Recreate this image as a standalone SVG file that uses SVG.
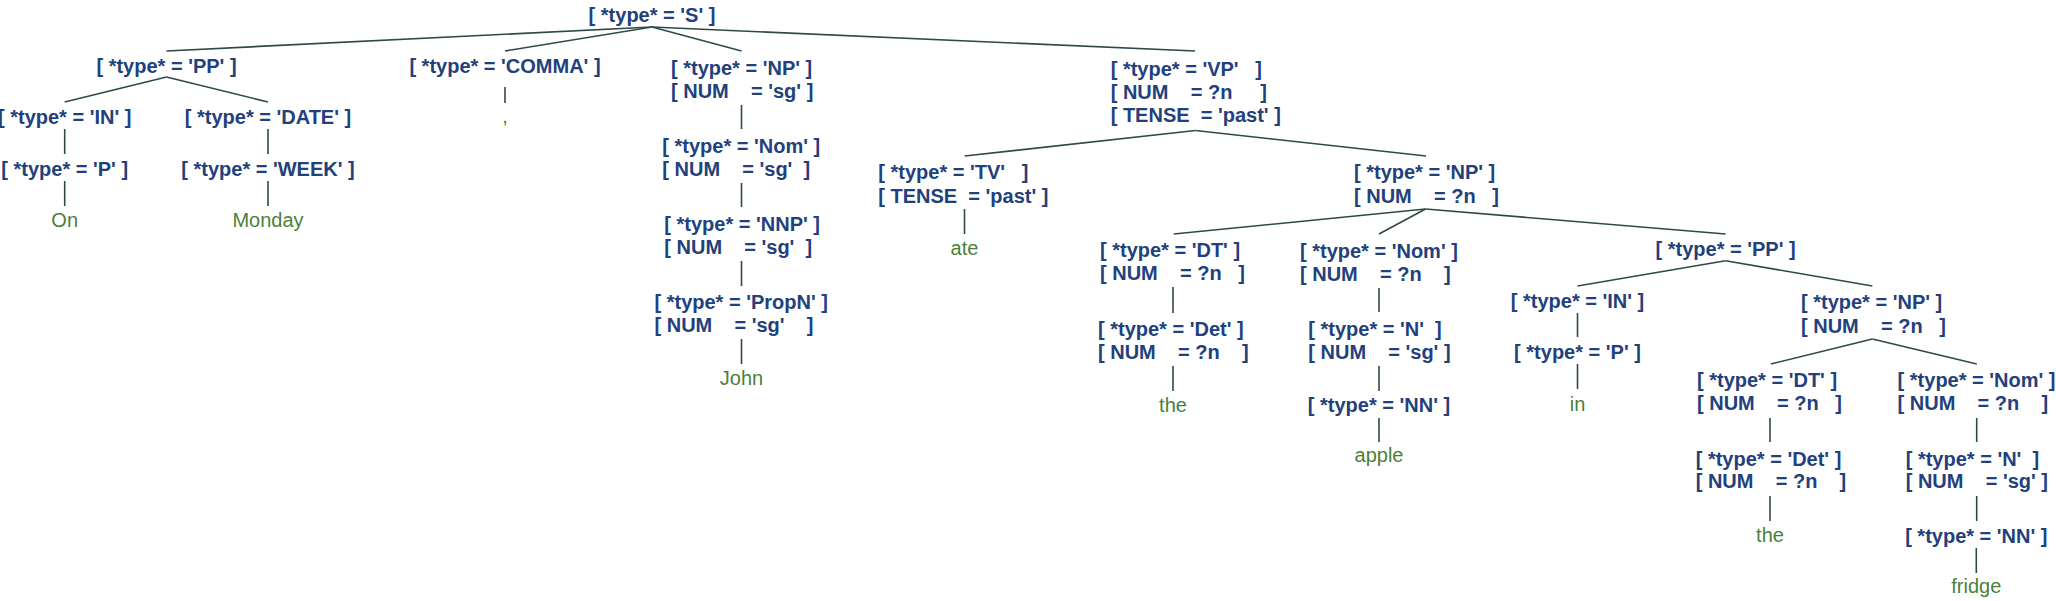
<svg xmlns="http://www.w3.org/2000/svg" width="2056" height="601" viewBox="0 0 2056 601">
<style>
.n{font-family:"Liberation Sans",Arial,Helvetica,sans-serif;font-size:20px;font-weight:bold;fill:#22417c;white-space:pre}
.c{text-anchor:middle}
.l{font-family:"Liberation Sans",Arial,Helvetica,sans-serif;font-size:20px;fill:#4a7f3a;text-anchor:middle}
.e line{stroke:#2e4a48;stroke-width:1.6;fill:none}
</style>
<rect width="2056" height="601" fill="#ffffff"/>
<g class="e" id="connectors">
<line x1="652" y1="27" x2="166.5" y2="51"/>
<line x1="652" y1="27" x2="505" y2="51"/>
<line x1="652" y1="27" x2="741.5" y2="51"/>
<line x1="652" y1="27" x2="1195" y2="51"/>
<line x1="166.5" y1="77" x2="64.7" y2="102"/>
<line x1="166.5" y1="77" x2="268" y2="102"/>
<line x1="64.7" y1="129" x2="64.7" y2="154"/>
<line x1="64.7" y1="181" x2="64.7" y2="206"/>
<line x1="268" y1="129" x2="268" y2="154"/>
<line x1="268" y1="181" x2="268" y2="206"/>
<line x1="505" y1="87" x2="505" y2="103"/>
<line x1="741.5" y1="105" x2="741.5" y2="129"/>
<line x1="741.5" y1="183" x2="741.5" y2="207"/>
<line x1="741.5" y1="261" x2="741.5" y2="286"/>
<line x1="741.5" y1="339" x2="741.5" y2="364"/>
<line x1="1195.5" y1="130.5" x2="964.7" y2="156"/>
<line x1="1195.5" y1="130.5" x2="1426" y2="156"/>
<line x1="964.5" y1="209" x2="964.5" y2="234"/>
<line x1="1425.5" y1="209" x2="1173.7" y2="234"/>
<line x1="1425.5" y1="209" x2="1379" y2="234"/>
<line x1="1425.5" y1="209" x2="1725.6" y2="234"/>
<line x1="1173" y1="287" x2="1173" y2="313"/>
<line x1="1173" y1="366" x2="1173" y2="391"/>
<line x1="1379" y1="288" x2="1379" y2="312"/>
<line x1="1379" y1="366" x2="1379" y2="391"/>
<line x1="1379" y1="418" x2="1379" y2="442"/>
<line x1="1725.6" y1="260.7" x2="1577.5" y2="286"/>
<line x1="1725.6" y1="260.7" x2="1872.4" y2="286"/>
<line x1="1577.5" y1="313" x2="1577.5" y2="337"/>
<line x1="1577.5" y1="364" x2="1577.5" y2="389"/>
<line x1="1872.4" y1="339" x2="1770.8" y2="364"/>
<line x1="1872.4" y1="339" x2="1976.8" y2="364"/>
<line x1="1770" y1="418" x2="1770" y2="442"/>
<line x1="1770" y1="496" x2="1770" y2="521"/>
<line x1="1976.7" y1="418" x2="1976.7" y2="442"/>
<line x1="1976.7" y1="496" x2="1976.7" y2="521"/>
<line x1="1976.3" y1="548" x2="1976.3" y2="573"/>
</g>
<g id="n-S" xml:space="preserve"><text class="n c" x="652" y="22">[ *type* = 'S' ]</text></g>
<g id="n-PP1" xml:space="preserve"><text class="n c" x="166.5" y="73">[ *type* = 'PP' ]</text></g>
<g id="n-IN1" xml:space="preserve"><text class="n c" x="64.7" y="124">[ *type* = 'IN' ]</text></g>
<g id="n-P1" xml:space="preserve"><text class="n c" x="64.7" y="176">[ *type* = 'P' ]</text></g>
<g id="l-On"><text class="l" x="64.7" y="226.5">On</text></g>
<g id="n-DATE" xml:space="preserve"><text class="n c" x="268" y="124">[ *type* = 'DATE' ]</text></g>
<g id="n-WEEK" xml:space="preserve"><text class="n c" x="268" y="176">[ *type* = 'WEEK' ]</text></g>
<g id="l-Monday"><text class="l" x="268" y="226.5">Monday</text></g>
<g id="n-COMMA" xml:space="preserve"><text class="n c" x="505" y="73">[ *type* = 'COMMA' ]</text></g>
<g id="l-comma"><text class="l" x="505" y="123">,</text></g>
<g id="n-NP1" xml:space="preserve"><text class="n" x="671" y="74.5">[ *type* = 'NP' ]</text><text class="n" x="671" y="97.5">[ NUM    = 'sg' ]</text></g>
<g id="n-Nom1" xml:space="preserve"><text class="n" x="662.3" y="152.8">[ *type* = 'Nom' ]</text><text class="n" x="662.3" y="175.7">[ NUM    = 'sg'  ]</text></g>
<g id="n-NNP" xml:space="preserve"><text class="n" x="664.3" y="230.5">[ *type* = 'NNP' ]</text><text class="n" x="664.3" y="253.5">[ NUM    = 'sg'  ]</text></g>
<g id="n-PropN" xml:space="preserve"><text class="n" x="654.5" y="309">[ *type* = 'PropN' ]</text><text class="n" x="654.5" y="332">[ NUM    = 'sg'    ]</text></g>
<g id="l-John"><text class="l" x="741.5" y="385">John</text></g>
<g id="n-VP" xml:space="preserve"><text class="n" x="1110.7" y="76">[ *type* = 'VP'   ]</text><text class="n" x="1110.7" y="99">[ NUM    = ?n     ]</text><text class="n" x="1110.7" y="122">[ TENSE  = 'past' ]</text></g>
<g id="n-TV" xml:space="preserve"><text class="n" x="878.3" y="179">[ *type* = 'TV'   ]</text><text class="n" x="878.3" y="202.5">[ TENSE  = 'past' ]</text></g>
<g id="l-ate"><text class="l" x="964.5" y="254.5">ate</text></g>
<g id="n-NP2" xml:space="preserve"><text class="n" x="1354" y="179">[ *type* = 'NP' ]</text><text class="n" x="1354" y="202.5">[ NUM    = ?n   ]</text></g>
<g id="n-DT2" xml:space="preserve"><text class="n" x="1100" y="257">[ *type* = 'DT' ]</text><text class="n" x="1100" y="280">[ NUM    = ?n   ]</text></g>
<g id="n-Det2" xml:space="preserve"><text class="n" x="1098" y="336">[ *type* = 'Det' ]</text><text class="n" x="1098" y="359">[ NUM    = ?n    ]</text></g>
<g id="l-the1"><text class="l" x="1173" y="411.5">the</text></g>
<g id="n-Nom2" xml:space="preserve"><text class="n" x="1300" y="257.5">[ *type* = 'Nom' ]</text><text class="n" x="1300" y="280.5">[ NUM    = ?n    ]</text></g>
<g id="n-N2" xml:space="preserve"><text class="n" x="1308.3" y="336">[ *type* = 'N'  ]</text><text class="n" x="1308.3" y="358.7">[ NUM    = 'sg' ]</text></g>
<g id="n-NN2" xml:space="preserve"><text class="n c" x="1379" y="412">[ *type* = 'NN' ]</text></g>
<g id="l-apple"><text class="l" x="1379" y="461.5">apple</text></g>
<g id="n-PP2" xml:space="preserve"><text class="n c" x="1725.6" y="256">[ *type* = 'PP' ]</text></g>
<g id="n-IN2" xml:space="preserve"><text class="n c" x="1577.5" y="308">[ *type* = 'IN' ]</text></g>
<g id="n-P2" xml:space="preserve"><text class="n c" x="1577.5" y="358.7">[ *type* = 'P' ]</text></g>
<g id="l-in"><text class="l" x="1577.5" y="410.5">in</text></g>
<g id="n-NP3" xml:space="preserve"><text class="n" x="1801" y="308.7">[ *type* = 'NP' ]</text><text class="n" x="1801" y="333">[ NUM    = ?n   ]</text></g>
<g id="n-DT3" xml:space="preserve"><text class="n" x="1697" y="387">[ *type* = 'DT' ]</text><text class="n" x="1697" y="410">[ NUM    = ?n   ]</text></g>
<g id="n-Det3" xml:space="preserve"><text class="n" x="1695.7" y="466">[ *type* = 'Det' ]</text><text class="n" x="1695.7" y="488">[ NUM    = ?n    ]</text></g>
<g id="l-the2"><text class="l" x="1770" y="541.5">the</text></g>
<g id="n-Nom3" xml:space="preserve"><text class="n" x="1897.6" y="387">[ *type* = 'Nom' ]</text><text class="n" x="1897.6" y="410">[ NUM    = ?n    ]</text></g>
<g id="n-N3" xml:space="preserve"><text class="n" x="1905.7" y="466">[ *type* = 'N'  ]</text><text class="n" x="1905.7" y="488">[ NUM    = 'sg' ]</text></g>
<g id="n-NN3" xml:space="preserve"><text class="n c" x="1976.3" y="543">[ *type* = 'NN' ]</text></g>
<g id="l-fridge"><text class="l" x="1976.3" y="593">fridge</text></g>
</svg>
